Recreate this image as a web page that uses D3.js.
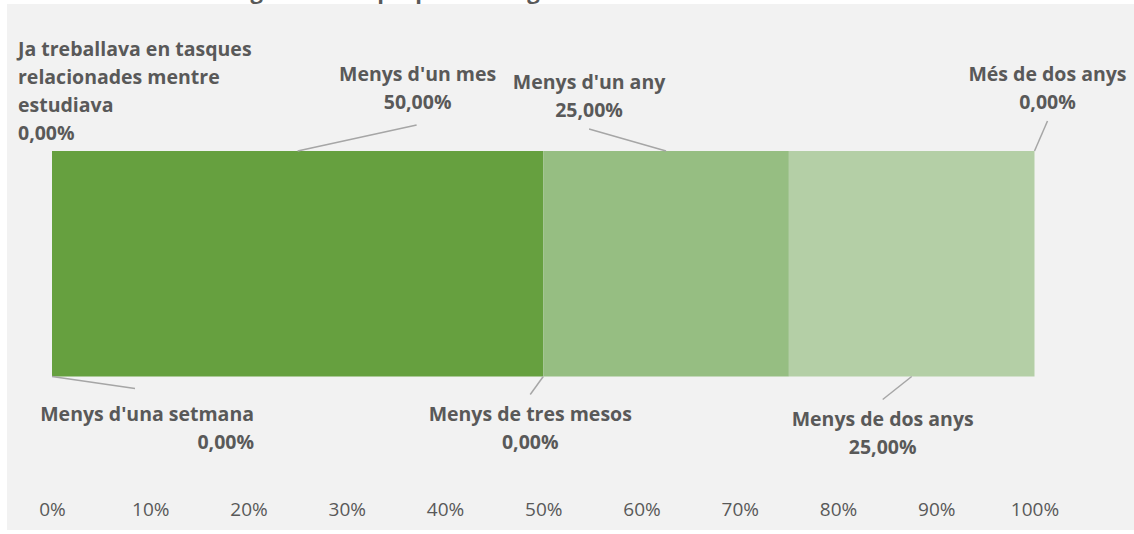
<!DOCTYPE html>
<html>
<head>
<meta charset="utf-8">
<script src="https://cdn.jsdelivr.net/npm/d3@7"></script>
<style>
  html, body { margin: 0; padding: 0; background: #ffffff; }
  svg { display: block; }
</style>
</head>
<body>
<div id="chart"></div>
<script>
// Time taken to find a job related to the studies (100% stacked bar)
const categories = [
  "Ja treballava en tasques relacionades mentre estudiava",
  "Menys d'una setmana",
  "Menys d'un mes",
  "Menys de tres mesos",
  "Menys d'un any",
  "Menys de dos anys",
  "Més de dos anys"
];
const values = [0, 0, 50, 0, 25, 25, 0];
const labelLines = [
  ["Ja treballava en tasques", "relacionades mentre", "estudiava"],
  ["Menys d'una setmana"],
  ["Menys d'un mes"],
  ["Menys de tres mesos"],
  ["Menys d'un any"],
  ["Menys de dos anys"],
  ["Més de dos anys"]
];
const tickValues = [0, 10, 20, 30, 40, 50, 60, 70, 80, 90, 100];
const tickLabels = ["0%", "10%", "20%", "30%", "40%", "50%", "60%", "70%", "80%", "90%", "100%"];

const segmentColors = ["#476f2c", "#567f39", "#66a03f", "#7faf60", "#96be82", "#b4cfa6", "#cfe0c5"];

// Label placement relative to each segment's anchor on the bar edge
// side: which edge of the bar; lead: leader end offset; text: text offset; align: text-anchor
const labelPlacement = [
  { side: "top",    lead: null,      text: [-34, -95], align: "start" },
  { side: "bottom", lead: [83, 12],  text: [202, 44],  align: "end" },
  { side: "top",    lead: [119, -26], text: [120, -70], align: "middle" },
  { side: "bottom", lead: [-13, 18], text: [-13, 44],  align: "middle" },
  { side: "top",    lead: [-77, -22], text: [-77, -62], align: "middle" },
  { side: "bottom", lead: [-29, 23], text: [-29, 49],  align: "middle" },
  { side: "top",    lead: [13, -30], text: [13, -70],  align: "middle" }
];

const W = 1134, H = 534;
const svg = d3.select("#chart").append("svg").attr("width", W).attr("height", H);

// panel
svg.append("rect").attr("x", 7).attr("y", 4).attr("width", W - 7).attr("height", 526).attr("fill", "#f2f2f2");

// title (runs off the top of the panel)
svg.append("text")
  .attr("x", 560).attr("y", -1)
  .attr("text-anchor", "middle")
  .attr("font-family", "Open Sans, sans-serif").attr("font-weight", 700).attr("font-size", 22)
  .attr("fill", "#595959")
  .text("Gràfic 9: Titulats segons el temps que van trigar a trobar una feina relacionada amb els estudis");

const x = d3.scaleLinear().domain([0, 100]).range([52, 1034.5]);
const y = d3.scaleBand().domain(["total"]).range([151, 376.5]).padding(0);

// stacked segments
const starts = d3.cumsum([0].concat(values)).slice(0, values.length);
const segs = categories.map((c, i) => ({
  cat: c, value: values[i], start: starts[i], end: starts[i] + values[i],
  color: segmentColors[i], lines: labelLines[i], place: labelPlacement[i]
}));

svg.append("g").selectAll("rect").data(segs.filter(d => d.value > 0)).join("rect")
  .attr("x", d => x(d.start))
  .attr("y", y("total"))
  .attr("width", d => x(d.end) - x(d.start))
  .attr("height", y.bandwidth())
  .attr("fill", d => d.color);

// axis
const axis = d3.axisBottom(x).tickValues(tickValues).tickFormat((d, i) => tickLabels[i]).tickSize(0).tickPadding(0);
const gAxis = svg.append("g").attr("transform", "translate(0,500)").call(axis);
gAxis.select(".domain").remove();
gAxis.selectAll("text")
  .attr("dy", 0).attr("y", 16)
  .attr("font-family", "Open Sans, sans-serif").attr("font-size", 19)
  .attr("fill", "#595959");

// data labels with leader lines
const fmt = v => v.toFixed(2).replace(".", ",") + "%";
const gLab = svg.append("g");
segs.forEach(d => {
  const ax = x((d.start + d.end) / 2);
  const ay = d.place.side === "top" ? y("total") : y("total") + y.bandwidth();
  if (d.place.lead) {
    gLab.append("line")
      .attr("x1", ax).attr("y1", ay)
      .attr("x2", ax + d.place.lead[0]).attr("y2", ay + d.place.lead[1])
      .attr("stroke", "#a6a6a6").attr("stroke-width", 1.5);
  }
  const t = gLab.append("text")
    .attr("x", ax + d.place.text[0]).attr("y", ay + d.place.text[1])
    .attr("text-anchor", d.place.align)
    .attr("font-family", "Open Sans, sans-serif").attr("font-weight", 700).attr("font-size", 19.5)
    .attr("fill", "#595959");
  const lines = d.lines.concat([fmt(d.value)]);
  lines.forEach((l, i) => {
    t.append("tspan").attr("x", ax + d.place.text[0]).attr("dy", i === 0 ? 0 : 28).text(l);
  });
});
</script>
</body>
</html>
